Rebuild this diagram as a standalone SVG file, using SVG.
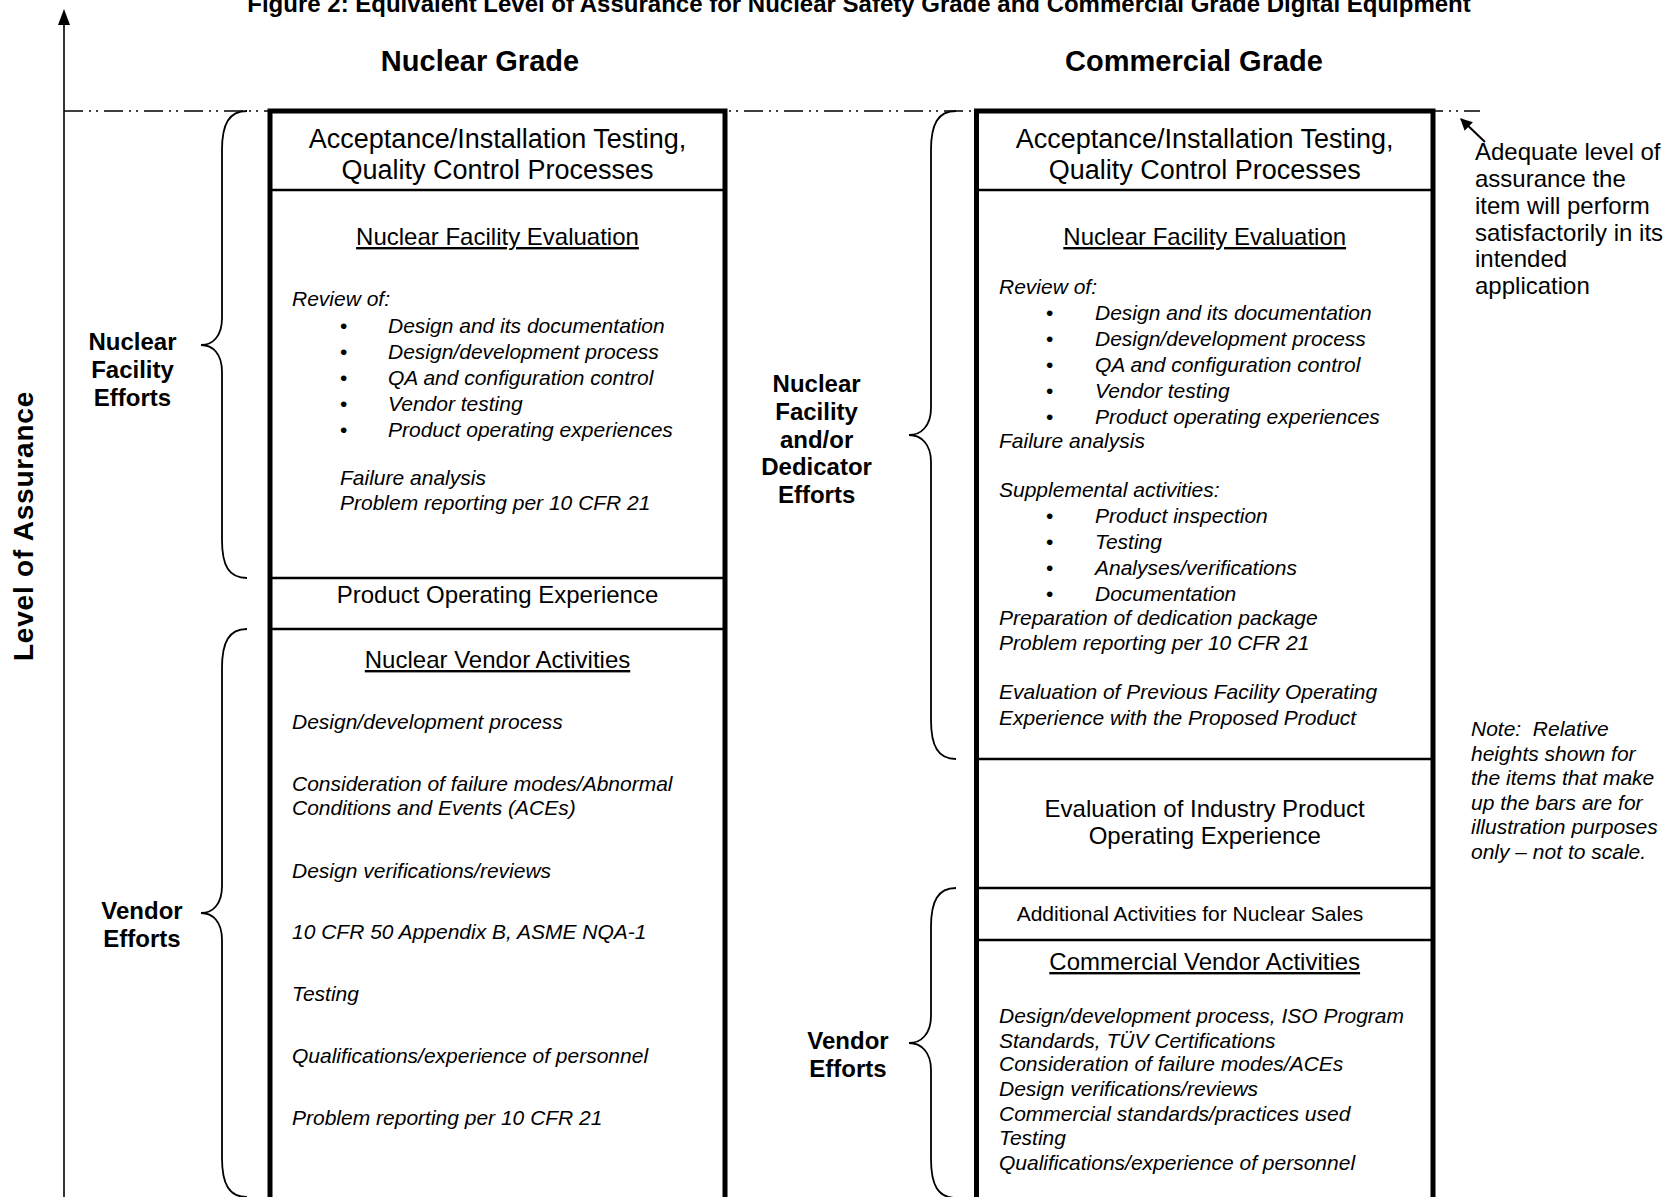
<svg xmlns="http://www.w3.org/2000/svg" width="1665" height="1197" viewBox="0 0 1665 1197">
<defs>
<style>
text{font-family:"Liberation Sans",Arial,sans-serif;fill:#000}
.t{font-weight:bold;font-size:24px;text-anchor:middle}
.g{font-weight:bold;font-size:29px;text-anchor:middle}
.ax{font-weight:bold;font-size:28px;text-anchor:middle;letter-spacing:0.8px}
.lb{font-weight:bold;font-size:24px;text-anchor:middle}
.hd{font-size:27px;text-anchor:middle}
.sh{font-size:24px;text-anchor:middle}
.u{text-decoration:underline}
.it{font-size:21px;font-style:italic}
.bu{font-size:21px}
.an{font-size:24px}
.box{fill:#fff;stroke:#000;stroke-width:5}
.div{stroke:#000;stroke-width:2.5;fill:none}
.brace{fill:none;stroke:#000;stroke-width:1.8}
.dash{stroke:#000;stroke-width:1.6;stroke-dasharray:19 6 2 5 2 6;fill:none}
</style>
<marker id="ah" viewBox="0 0 10 10" refX="9" refY="5" markerWidth="12" markerHeight="12" markerUnits="userSpaceOnUse" orient="auto">
<path d="M0,0 L10,5 L0,10 z" fill="#000"/>
</marker>
</defs>
<rect width="1665" height="1197" fill="#fff"/>
<text class="t" x="859" y="12">Figure 2: Equivalent Level of Assurance for Nuclear Safety Grade and Commercial Grade Digital Equipment</text>
<g id="axis">
<line x1="64" y1="1197" x2="64" y2="22" stroke="#000" stroke-width="1.6"/>
<path d="M64,9 L58,25 L70,25 z" fill="#000"/>
<text class="ax" transform="rotate(-90 33 526)" x="33" y="526">Level of Assurance</text>
</g>
<text class="g" x="480" y="71">Nuclear Grade</text>
<text class="g" x="1194" y="71">Commercial Grade</text>
<g id="connectors">
<line class="dash" x1="64" y1="111" x2="1480" y2="111"/>
<path class="brace" d="M247,111 C229,111 222,124 222,150 L222,318 C222,336 213,345 201,345 C213,345 222,354 222,372 L222,540 C222,566 229,578 247,578"/>
<path class="brace" d="M247,629 C229,629 222,642 222,668 L222,886 C222,904 213,913 201,913 C213,913 222,922 222,940 L222,1158 C222,1184 229,1197 247,1197"/>
<path class="brace" d="M956,111 C938,111 931,124 931,150 L931,408 C931,426 921,435 909,435 C921,435 931,444 931,462 L931,720 C931,746 938,759 956,759"/>
<path class="brace" d="M956,888 C938,888 931,901 931,927 L931,1016 C931,1034 921,1043 909,1043 C921,1043 931,1052 931,1070 L931,1159 C931,1185 938,1198 956,1198"/>
<line x1="1485" y1="142" x2="1461" y2="119" stroke="#000" stroke-width="2" marker-end="url(#ah)"/>
</g>
<g id="nuclear-grade-bar">
<rect class="box" x="270" y="111" width="455" height="1100"/>
<line class="div" x1="270" y1="190" x2="725" y2="190"/>
<line class="div" x1="270" y1="578" x2="725" y2="578"/>
<line class="div" x1="270" y1="629" x2="725" y2="629"/>
<text class="hd" x="497.5" y="148">Acceptance/Installation Testing,</text>
<text class="hd" x="497.5" y="179">Quality Control Processes</text>
<text class="sh u" x="497.5" y="245">Nuclear Facility Evaluation</text>
<text class="it" x="292" y="306">Review of:</text>
<text class="bu" x="340" y="333">•</text><text class="it" x="388" y="333">Design and its documentation</text>
<text class="bu" x="340" y="359">•</text><text class="it" x="388" y="359">Design/development process</text>
<text class="bu" x="340" y="385">•</text><text class="it" x="388" y="385">QA and configuration control</text>
<text class="bu" x="340" y="411">•</text><text class="it" x="388" y="411">Vendor testing</text>
<text class="bu" x="340" y="437">•</text><text class="it" x="388" y="437">Product operating experiences</text>
<text class="it" x="340" y="485">Failure analysis</text>
<text class="it" x="340" y="510">Problem reporting per 10 CFR 21</text>
<text class="sh" x="497.5" y="603">Product Operating Experience</text>
<text class="sh u" x="497.5" y="668">Nuclear Vendor Activities</text>
<text class="it" x="292" y="729">Design/development process</text>
<text class="it" x="292" y="791">Consideration of failure modes/Abnormal</text>
<text class="it" x="292" y="815">Conditions and Events (ACEs)</text>
<text class="it" x="292" y="878">Design verifications/reviews</text>
<text class="it" x="292" y="939">10 CFR 50 Appendix B, ASME NQA-1</text>
<text class="it" x="292" y="1001">Testing</text>
<text class="it" x="292" y="1063">Qualifications/experience of personnel</text>
<text class="it" x="292" y="1125">Problem reporting per 10 CFR 21</text>
</g>
<g id="commercial-grade-bar">
<rect class="box" x="976.5" y="111" width="456.5" height="1100"/>
<line class="div" x1="976.5" y1="190" x2="1433" y2="190"/>
<line class="div" x1="976.5" y1="759" x2="1433" y2="759"/>
<line class="div" x1="976.5" y1="888" x2="1433" y2="888"/>
<line class="div" x1="976.5" y1="940" x2="1433" y2="940"/>
<text class="hd" x="1204.7" y="148">Acceptance/Installation Testing,</text>
<text class="hd" x="1204.7" y="179">Quality Control Processes</text>
<text class="sh u" x="1204.7" y="245">Nuclear Facility Evaluation</text>
<text class="it" x="999" y="294">Review of:</text>
<text class="bu" x="1046" y="320">•</text><text class="it" x="1095" y="320">Design and its documentation</text>
<text class="bu" x="1046" y="346">•</text><text class="it" x="1095" y="346">Design/development process</text>
<text class="bu" x="1046" y="372">•</text><text class="it" x="1095" y="372">QA and configuration control</text>
<text class="bu" x="1046" y="398">•</text><text class="it" x="1095" y="398">Vendor testing</text>
<text class="bu" x="1046" y="424">•</text><text class="it" x="1095" y="424">Product operating experiences</text>
<text class="it" x="999" y="448">Failure analysis</text>
<text class="it" x="999" y="497">Supplemental activities:</text>
<text class="bu" x="1046" y="523">•</text><text class="it" x="1095" y="523">Product inspection</text>
<text class="bu" x="1046" y="549">•</text><text class="it" x="1095" y="549">Testing</text>
<text class="bu" x="1046" y="575">•</text><text class="it" x="1095" y="575">Analyses/verifications</text>
<text class="bu" x="1046" y="601">•</text><text class="it" x="1095" y="601">Documentation</text>
<text class="it" x="999" y="625">Preparation of dedication package</text>
<text class="it" x="999" y="650">Problem reporting per 10 CFR 21</text>
<text class="it" x="999" y="699">Evaluation of Previous Facility Operating</text>
<text class="it" x="999" y="724.5">Experience with the Proposed Product</text>
<text class="sh" x="1204.7" y="817">Evaluation of Industry Product</text>
<text class="sh" x="1204.7" y="844">Operating Experience</text>
<text class="bu" x="1190" y="921" text-anchor="middle">Additional Activities for Nuclear Sales</text>
<text class="sh u" x="1204.7" y="970">Commercial Vendor Activities</text>
<text class="it" x="999" y="1023">Design/development process, ISO Program</text>
<text class="it" x="999" y="1047.5">Standards, TÜV Certifications</text>
<text class="it" x="999" y="1071">Consideration of failure modes/ACEs</text>
<text class="it" x="999" y="1096">Design verifications/reviews</text>
<text class="it" x="999" y="1120.5">Commercial standards/practices used</text>
<text class="it" x="999" y="1145">Testing</text>
<text class="it" x="999" y="1170">Qualifications/experience of personnel</text>
</g>
<g id="label-nuclear-facility-efforts">
<text class="lb" x="132.5" y="350">Nuclear</text>
<text class="lb" x="132.5" y="378">Facility</text>
<text class="lb" x="132.5" y="406">Efforts</text>
</g>
<g id="label-vendor-efforts-left">
<text class="lb" x="142" y="919">Vendor</text>
<text class="lb" x="142" y="947">Efforts</text>
</g>
<g id="label-dedicator-efforts">
<text class="lb" x="816.6" y="392">Nuclear</text>
<text class="lb" x="816.6" y="420">Facility</text>
<text class="lb" x="816.6" y="448">and/or</text>
<text class="lb" x="816.6" y="475">Dedicator</text>
<text class="lb" x="816.6" y="503">Efforts</text>
</g>
<g id="label-vendor-efforts-right">
<text class="lb" x="848" y="1049">Vendor</text>
<text class="lb" x="848" y="1077">Efforts</text>
</g>
<g id="note-adequate">
<text class="an" x="1475" y="160">Adequate level of</text>
<text class="an" x="1475" y="187">assurance the</text>
<text class="an" x="1475" y="214">item will perform</text>
<text class="an" x="1475" y="240.5">satisfactorily in its</text>
<text class="an" x="1475" y="267">intended</text>
<text class="an" x="1475" y="294">application</text>
</g>
<g id="note-scale">
<text class="it" x="1471" y="736">Note:&#160; Relative</text>
<text class="it" x="1471" y="760.5">heights shown for</text>
<text class="it" x="1471" y="785">the items that make</text>
<text class="it" x="1471" y="809.5">up the bars are for</text>
<text class="it" x="1471" y="834">illustration purposes</text>
<text class="it" x="1471" y="859">only – not to scale.</text>
</g>
</svg>
